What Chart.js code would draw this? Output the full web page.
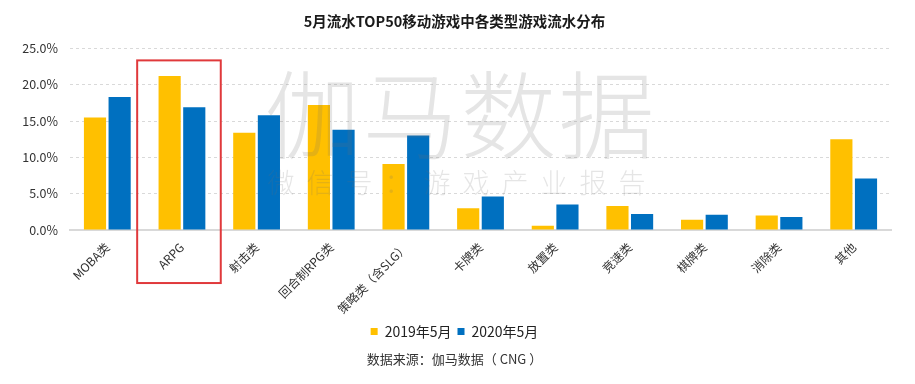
<!DOCTYPE html>
<html>
<head>
<meta charset="utf-8">
<script src="https://cdn.jsdelivr.net/npm/chart.js@4"></script>
<style>
html,body{margin:0;padding:0;background:#fff;}
#wrap{width:915px;height:384px;position:relative;}
</style>
</head>
<body>
<div id="wrap"><canvas id="c" width="915" height="384"></canvas></div>
<script>
const categories = ["MOBA类","ARPG","射击类","回合制RPG类","策略类（含SLG）","卡牌类","放置类","竞速类","棋牌类","消除类","其他"];
const series2019 = [15.5, 21.2, 13.4, 17.2, 9.1, 3.0, 0.6, 3.3, 1.4, 2.0, 12.5];
const series2020 = [18.3, 16.9, 15.8, 13.8, 13.0, 4.6, 3.5, 2.2, 2.1, 1.8, 7.1];
const seriesNames = ["2019年5月","2020年5月"];
const yTicks = [0, 5, 10, 15, 20, 25];
const titleText = "5月流水TOP50移动游戏中各类型游戏流水分布";
const sourceText = "数据来源：伽马数据（ CNG ）";
const highlightIndex = 1;

const FONT = "'Noto Sans CJK SC', 'Noto Sans', sans-serif";

const watermark = {
  id: 'watermark',
  afterDatasetsDraw(chart) {
    const ctx = chart.ctx;
    const ca = chart.chartArea;
    const cx = (ca.left + ca.right) / 2;
    ctx.save();
    ctx.fillStyle = 'rgba(110,110,110,0.18)';
    ctx.textAlign = 'center';
    ctx.textBaseline = 'middle';
    ctx.font = "300 96px " + FONT;
    ctx.letterSpacing = '2px';
    ctx.fillText('伽马数据', cx - 20, ca.top + 66);
    ctx.font = "300 27px " + FONT;
    ctx.letterSpacing = '12px';
    ctx.fillText('微信号：游戏产业报告', cx - 18, ca.top + 134);
    ctx.restore();
  }
};

const highlightBox = {
  id: 'highlightBox',
  afterDraw(chart) {
    const x = chart.scales.x, y = chart.scales.y;
    const cw = (x.right - x.left) / categories.length;
    const c = x.getPixelForValue(highlightIndex);
    const ctx = chart.ctx;
    ctx.save();
    ctx.strokeStyle = '#E0393B';
    ctx.lineWidth = 2;
    const top = y.getPixelForValue(23.35);
    const bottom = chart.chartArea.bottom + 53;
    ctx.strokeRect(c - 0.6 * cw, top, 1.12 * cw, bottom - top);
    ctx.restore();
  }
};

new Chart(document.getElementById('c'), {
  type: 'bar',
  data: {
    labels: categories,
    datasets: [
      { label: seriesNames[0], data: series2019, backgroundColor: '#FFC000', categoryPercentage: 0.66, barPercentage: 0.9 },
      { label: seriesNames[1], data: series2020, backgroundColor: '#0070C0', categoryPercentage: 0.66, barPercentage: 0.9 }
    ]
  },
  options: {
    responsive: false,
    animation: false,
    layout: { padding: { left: 18, right: 24, top: 0, bottom: 0 } },
    plugins: {
      title: {
        display: true, text: titleText, color: '#1a1a1a',
        font: { family: FONT, size: 14.5, weight: 'bold' },
        padding: { top: 13, bottom: 18 }
      },
      subtitle: {
        display: true, text: sourceText, position: 'bottom', color: '#333',
        font: { family: FONT, size: 13 },
        padding: { top: 3, bottom: 17 }
      },
      legend: {
        position: 'bottom',
        labels: {
          boxWidth: 7, boxHeight: 7, color: '#222',
          font: { family: FONT, size: 14 },
          padding: 6
        }
      },
      tooltip: { enabled: false }
    },
    scales: {
      x: {
        grid: { display: false },
        border: { display: true, color: '#d9d9d9', width: 2 },
        ticks: {
          maxRotation: 45, minRotation: 45, autoSkip: false,
          color: '#333', font: { family: FONT, size: 12 }, padding: 2
        }
      },
      y: {
        min: 0, max: 25,
        afterBuildTicks(scale) { scale.ticks = yTicks.map(v => ({ value: v })); },
        afterFit(scale) { scale.width = 52; },
        border: { display: false, dash: [3, 3] },
        grid: {
          color: (ctx) => ctx.tick && ctx.tick.value === 0 ? 'rgba(0,0,0,0)' : '#d9d9d9',
          drawTicks: false
        },
        ticks: {
          color: '#333', font: { family: FONT, size: 12.5 }, padding: 12,
          callback: (v) => Number(v).toFixed(1) + '%'
        }
      }
    }
  },
  plugins: [watermark, highlightBox]
});
</script>
</body>
</html>
